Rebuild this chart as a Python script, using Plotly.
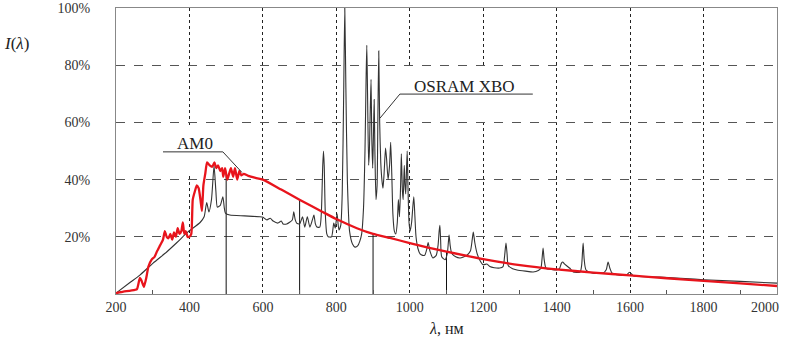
import numpy as np
import plotly.graph_objects as go

# AM0 spectrum (red)
am0_wl = [200, 220, 240, 257, 265, 270, 276, 283, 288, 297, 305, 312, 320, 328, 333, 338, 343, 348,
          353, 358, 363, 368, 373, 378, 382, 386, 390, 395, 400, 405, 409, 415, 420, 425, 430, 434,
          438, 443, 448, 455, 462, 468, 473, 478, 484, 489, 492, 497, 503, 508, 513, 519, 524, 530,
          536, 541, 548, 560, 580, 600, 650, 701, 764, 800, 856, 900, 946, 1000, 1050, 1100, 1200,
          1300, 1400, 1500, 1600, 1700, 1800, 1900, 2000]
am0_val = [0.3, 0.8, 1.2, 1.7, 5.6, 4.5, 2.5, 6, 9.5, 12, 13, 15, 17, 19, 22, 20, 19.5, 21,
           19, 21.5, 20, 23, 21, 22, 25, 21, 22, 20, 20, 21, 33, 36, 38, 37, 33, 29,
           38, 42, 46, 45, 44.5, 46, 44, 45, 43, 44, 41, 44, 40, 42, 44, 41, 44, 40,
           43, 41.5, 42, 41.3, 40.6, 40, 36.5, 32.9, 28.6, 26.2, 23, 21, 19.6, 17.8, 16.2, 14.8, 12.2,
           10.1, 8.6, 7.5, 6.5, 5.5, 4.6, 3.7, 2.8]

# OSRAM XBO lamp spectrum (black)
xbo_wl = [200, 238, 265, 301, 338, 366, 396, 429, 440, 447, 453, 460, 467, 472, 476, 484, 491, 495,
          498, 510, 550, 592, 600, 611, 620, 628, 641, 650, 655, 665, 680, 684, 688, 692, 700, 708,
          714, 721, 728, 735, 739, 743, 747, 755, 759, 763, 765, 767, 770, 774, 778, 787, 793, 797,
          802, 807, 812, 816, 820, 823, 826, 830, 836, 844, 851, 858, 864, 869, 874, 878, 881, 883,
          885, 888, 890, 892, 894.5, 896.5, 899, 901, 903, 905, 908, 911, 913, 915.5, 918, 921, 924,
          927, 930, 934, 937, 941, 945, 948, 951, 954, 958, 962, 966, 969, 972, 975, 977, 980, 982,
          985, 987, 989, 991, 993, 995, 998, 1001, 1005, 1008, 1011, 1014, 1017, 1022, 1028, 1035,
          1041, 1046, 1050, 1055, 1063, 1072, 1077, 1080, 1082, 1084, 1087, 1096, 1102, 1105, 1107,
          1110, 1114, 1125, 1137, 1155, 1165, 1170, 1173, 1177, 1183, 1190, 1200, 1210, 1218, 1230,
          1245, 1254, 1258, 1262, 1265, 1268, 1280, 1292, 1315, 1336, 1350, 1357, 1360, 1363, 1366,
          1371, 1385, 1400, 1408, 1413, 1417, 1421, 1428, 1436, 1445, 1464, 1468, 1472, 1475, 1480,
          1499, 1526, 1535, 1540, 1545, 1551, 1572, 1590, 1598, 1604, 1610, 1681, 1750, 1800, 1900,
          2000]
xbo_val = [0.3, 4, 6.6, 10.8, 14.7, 18, 21.7, 25, 27, 32, 28.7, 33, 44.8, 36, 30.4, 31, 34, 30,
           28.3, 27.6, 27.3, 27, 26.8, 25.9, 26.5, 25.5, 24.8, 25.5, 24.5, 24.5, 25.9, 28.7, 26, 24.8, 24.5, 27,
           23.4, 27, 23.4, 26, 27.6, 24.5, 23.4, 23.4, 28, 45, 50, 45, 28, 21, 20, 20, 24.8, 23,
           28, 22.4, 24, 35, 70, 100, 72, 40, 22, 17.5, 16.4, 16.8, 18.5, 21, 30, 50, 75, 87,
           70, 45, 50, 62, 75, 55, 44, 55, 68, 50, 33, 38, 60, 85, 60, 46, 40,
           37, 42, 51, 47, 40, 45, 53, 42, 28, 22, 21, 25, 33, 27, 38, 49, 36, 33,
           45, 38, 35, 43, 50, 38, 25, 22, 25, 30, 34, 27, 20, 16, 14, 13.5,
           13.6, 15.5, 18, 15, 12.6, 13.5, 17, 22, 24, 19, 13, 12, 14, 18, 20.6,
           17, 14.3, 13, 12.6, 13.5, 15, 19, 21.7, 18, 14.3, 12, 10.2, 10.5, 9.6, 9.2,
           9.1, 9.6, 13, 17.8, 14, 10, 8.8, 8.4, 8, 7.7, 8.2, 9, 12, 16.1, 12,
           9, 8.6, 8.4, 9, 10.8, 11.2, 10.5, 9.8, 9, 7.7, 7.7, 10, 17.8, 12, 8.4,
           7.3, 7.3, 8.5, 11.2, 9, 7.3, 6.6, 6.6, 7.6, 7, 6.3, 5.9, 5.4, 5.0, 4.4,
           3.8]

drop_wl = [500, 700, 900, 1100]

x_ticks = list(range(200, 2001, 200))
x_ticktext = [str(v) for v in range(200, 1801, 200)] + [""]
last_x_label = "2000"
y_ticks = [20, 40, 60, 80, 100]
y_ticktext = ["20%", "40%", "60%", "80%", "100%"]

SERIF = "Liberation Serif, Times New Roman, serif"

fig = go.Figure()

# drop lines from AM0 curve to axis
drop_y = np.interp(drop_wl, am0_wl, am0_val)
dx, dy = [], []
for w, v in zip(drop_wl, drop_y):
    dx += [w, w, None]
    dy += [0, v, None]
fig.add_trace(go.Scatter(x=dx, y=dy, mode="lines", line=dict(color="#111", width=1),
                         hoverinfo="skip", showlegend=False))

fig.add_trace(go.Scatter(x=xbo_wl, y=xbo_val, mode="lines", name="OSRAM XBO",
                         line=dict(color="#333333", width=1.1, shape="spline", smoothing=0.6),
                         showlegend=False))
fig.add_trace(go.Scatter(x=am0_wl, y=am0_val, mode="lines", name="AM0",
                         line=dict(color="#e8141c", width=2.3, shape="spline", smoothing=0.5),
                         showlegend=False))

# white label boxes hiding gridlines
fig.add_shape(type="rect", xref="x", yref="y", x0=330, x1=540, y0=41.5, y1=58.5,
              fillcolor="white", line=dict(width=0), layer="between")
fig.add_shape(type="rect", xref="x", yref="y", x0=955, x1=1345, y0=61, y1=79,
              fillcolor="white", line=dict(width=0), layer="between")

# leader lines
fig.add_shape(type="path", xref="x", yref="y",
              path="M 328 49.7 L 491 49.7 L 543 42.5", line=dict(color="#333", width=1), layer="above")
fig.add_shape(type="path", xref="x", yref="y",
              path="M 1335 69.9 L 973 69.9 L 919 61.5", line=dict(color="#333", width=1), layer="above")

fig.add_annotation(x=415, y=52.5, xref="x", yref="y", text="AM0", showarrow=False,
                   font=dict(family=SERIF, size=17, color="#222"))
fig.add_annotation(x=1150, y=72.6, xref="x", yref="y", text="OSRAM XBO", showarrow=False,
                   font=dict(family=SERIF, size=17, color="#222"))

fig.add_annotation(x=-0.172, y=0.915, xref="paper", yref="paper", xanchor="left",
                   text="<i>I</i>(<i>λ</i>)", showarrow=False,
                   font=dict(family=SERIF, size=17, color="#222"))
fig.add_annotation(x=0.5, y=-0.085, xref="paper", yref="paper", yanchor="top",
                   text="<i>λ</i>, нм", showarrow=False,
                   font=dict(family=SERIF, size=16, color="#222"))
# last x tick label, kept inside the page like in the reference
fig.add_annotation(x=2000, y=0, xref="x", yref="y", xanchor="right", yanchor="top",
                   xshift=4, yshift=-4, text=last_x_label, showarrow=False,
                   font=dict(family=SERIF, size=14, color="#333"))

fig.update_layout(
    width=790, height=345,
    margin=dict(l=116, r=13, t=8, b=51, autoexpand=False),
    paper_bgcolor="white", plot_bgcolor="white",
    showlegend=False,
    font=dict(family=SERIF, size=14, color="#333"),
)
fig.update_xaxes(
    range=[200, 2000], tickvals=x_ticks, ticktext=x_ticktext, ticks="", showgrid=True,
    gridcolor="#222", griddash="dot", gridwidth=1,
    showline=True, linecolor="#888", linewidth=1.2, mirror=True,
    zeroline=False, ticklabelstandoff=0, automargin=False,
    minor=dict(tickvals=list(range(300, 2000, 200)), ticks="inside", ticklen=4,
               tickcolor="#555", showgrid=False),
)
fig.update_yaxes(
    range=[0, 100], tickvals=y_ticks, ticktext=y_ticktext, ticks="",
    showgrid=True, gridcolor="#555", griddash="dash", gridwidth=1,
    showline=True, linecolor="#888", linewidth=1.2, mirror=True,
    zeroline=False, ticklabelstandoff=22, automargin=False,
)

fig.write_html("out.html", post_script="document.body.style.margin='0';",
               config={"displayModeBar": False})
